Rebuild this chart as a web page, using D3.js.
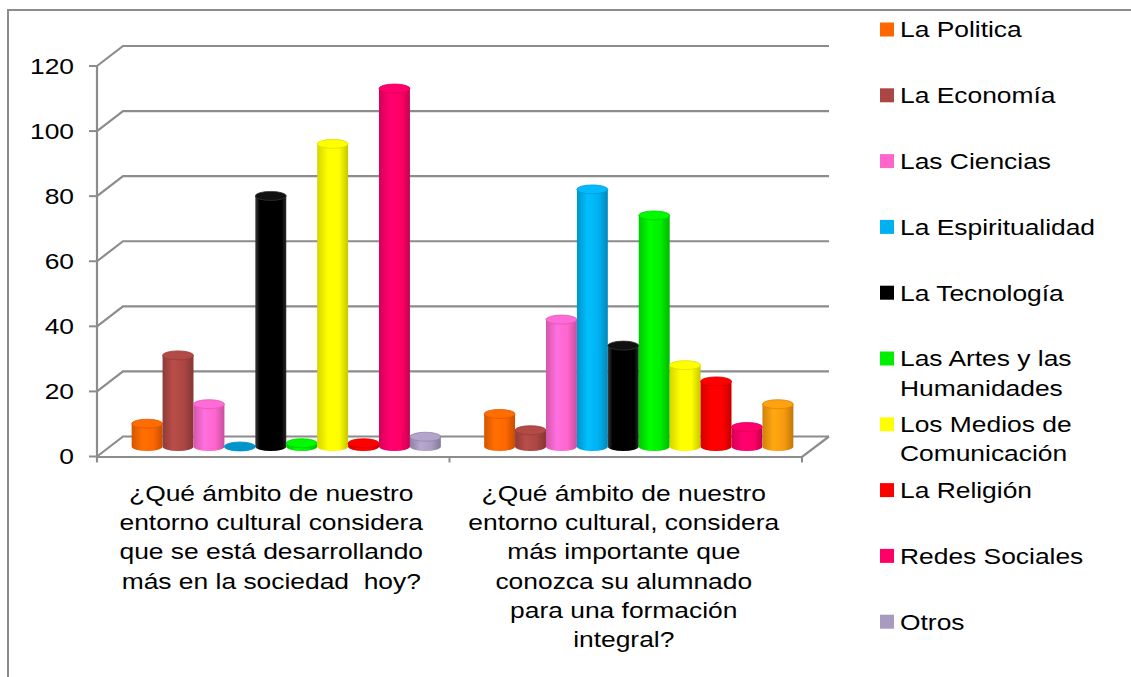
<!DOCTYPE html>
<html>
<head>
<meta charset="utf-8">
<script src="https://cdnjs.cloudflare.com/ajax/libs/d3/7.8.5/d3.min.js"></script>
<style>
  body { margin: 0; background: white; }
  text { font-family: "Liberation Sans", Arial, sans-serif; fill: #000; }
</style>
</head>
<body>
<svg id="chart"></svg>
<script>
var WIDTH = 1131,
    HEIGHT = 677,
    FRONT = {left: 97, right: 802, top: 66, bottom: 456.5},
    DEPTH = {dx: 26, dy: -20},
    GRID_COLOR = "#8c8c8c",
    FONT_SIZE = 22,
    STRETCH = 1.2;

// data
var questions = ["q1", "q2"];
var questionLines = [
    ["¿Qué ámbito de nuestro", "entorno cultural considera", "que se está desarrollando", "más en la sociedad  hoy?"],
    ["¿Qué ámbito de nuestro", "entorno cultural, considera", "más importante que", "conozca su alumnado", "para una formación", "integral?"]
];
var seriesNames = ["La Politica", "La Economía", "Las Ciencias", "La Espiritualidad", "La Tecnología",
    "Las Artes y las Humanidades", "Los Medios de Comunicación", "La Religión", "Redes Sociales", "Otros"];
var legendLines = [["La Politica"], ["La Economía"], ["Las Ciencias"], ["La Espiritualidad"], ["La Tecnología"],
    ["Las Artes y las", "Humanidades"], ["Los Medios de", "Comunicación"], ["La Religión"], ["Redes Sociales"], ["Otros"]];
var valuesQ1 = [7, 28, 13, 0, 77, 1, 93, 1, 110, 3];
var valuesQ2 = [10, 5, 39, 79, 31, 71, 25, 20, 6, 13];
var seriesColors = ["#FF6600", "#AA4643", "#FF66CC", "#00B0F0", "#000000",
    "#00EE00", "#FFFF00", "#FF0000", "#FF0066", "#A99BC0"];
var barColorsQ1 = seriesColors.slice();
var barColorsQ2 = ["#FF6600", "#AA4643", "#FF66CC", "#00B0F0", "#000000",
    "#00EE00", "#FFFF00", "#FF0000", "#FF0066", "#F79A0E"];
var yTicks = [0, 20, 40, 60, 80, 100, 120];

var allValues = [valuesQ1, valuesQ2];
var allColors = [barColorsQ1, barColorsQ2];

var svg = d3.select("#chart")
    .attr("width", WIDTH)
    .attr("height", HEIGHT)
    .style("background", "white");

var defs = svg.append("defs");

var x0 = d3.scaleBand()
    .domain(questions)
    .range([FRONT.left, FRONT.right]);
var x1 = d3.scaleBand()
    .domain(seriesNames)
    .range([0, x0.bandwidth()])
    .paddingInner(0)
    .paddingOuter(0.7);
var y = d3.scaleLinear()
    .domain([0, 120])
    .range([FRONT.bottom, FRONT.top]);

// outer frame (runs past the page edges)
svg.append("rect")
    .attr("x", 8)
    .attr("y", 10)
    .attr("width", 1140)
    .attr("height", 700)
    .style("fill", "none")
    .style("stroke", GRID_COLOR)
    .style("stroke-width", 2);

// back wall gridlines
var grid = svg.append("g").attr("id", "grid");
grid.selectAll("path.gridline")
    .data(yTicks)
  .enter().append("path")
    .attr("class", "gridline")
    .attr("d", function(d) {
        var yy = y(d);
        return "M" + FRONT.left + "," + yy +
            "L" + (FRONT.left + DEPTH.dx) + "," + (yy + DEPTH.dy) +
            "L" + (FRONT.right + DEPTH.dx + 1) + "," + (yy + DEPTH.dy);
    })
    .style("fill", "none")
    .style("stroke", GRID_COLOR)
    .style("stroke-width", 2.2);

// floor front edge + right side
grid.append("path")
    .attr("d", "M" + FRONT.left + "," + (FRONT.bottom + 0.5) +
        "L" + FRONT.right + "," + (FRONT.bottom + 0.5) +
        "L" + (FRONT.right + DEPTH.dx + 1) + "," + (FRONT.bottom + DEPTH.dy))
    .style("fill", "none")
    .style("stroke", GRID_COLOR)
    .style("stroke-width", 2.2);

// y axis line and ticks
grid.append("line")
    .attr("x1", FRONT.left)
    .attr("x2", FRONT.left)
    .attr("y1", y(120))
    .attr("y2", FRONT.bottom + 5)
    .style("stroke", GRID_COLOR)
    .style("stroke-width", 2.2);
grid.selectAll("line.ytick")
    .data(yTicks)
  .enter().append("line")
    .attr("class", "ytick")
    .attr("x1", FRONT.left - 8)
    .attr("x2", FRONT.left)
    .attr("y1", function(d) { return y(d); })
    .attr("y2", function(d) { return y(d); })
    .style("stroke", GRID_COLOR)
    .style("stroke-width", 2);

// category ticks on the floor edge
var catTicks = [FRONT.left].concat(questions.map(function(q) { return x0(q) + x0.bandwidth(); }));
grid.selectAll("line.xtick")
    .data(catTicks)
  .enter().append("line")
    .attr("class", "xtick")
    .attr("x1", function(d) { return d; })
    .attr("x2", function(d) { return d; })
    .attr("y1", FRONT.bottom)
    .attr("y2", FRONT.bottom + 6)
    .style("stroke", GRID_COLOR)
    .style("stroke-width", 2);

// y labels
svg.selectAll("text.ylabel")
    .data(yTicks)
  .enter().append("text")
    .attr("class", "ylabel")
    .attr("transform", function(d) { return "translate(74," + y(d) + ") scale(" + STRETCH + ",1)"; })
    .attr("dy", "0.36em")
    .style("font-size", FONT_SIZE + "px")
    .style("text-anchor", "end")
    .text(function(d) { return d; });

// gradients for cylinders
function gradientId(color) { return "grad" + color.replace("#", ""); }
var usedColors = Array.from(new Set(barColorsQ1.concat(barColorsQ2)));
usedColors.forEach(function(c) {
    var base = d3.color(c);
    var isBlack = base.r + base.g + base.b < 30;
    var g = defs.append("linearGradient")
        .attr("id", gradientId(c))
        .attr("x1", "0%").attr("x2", "100%")
        .attr("y1", "0%").attr("y2", "0%");
    var stops = isBlack
        ? [[0, "#3a3a3a"], [0.15, "#000"], [0.85, "#000"], [1, "#2a2a2a"]]
        : [[0, base.darker(0.5)], [0.35, base.brighter(0.25)], [0.7, base], [1, base.darker(0.7)]];
    stops.forEach(function(s) {
        g.append("stop").attr("offset", s[0]).attr("stop-color", s[1].toString());
    });
});

// cylinders
var RY = 4.5;
var bars = svg.append("g").attr("id", "bars");
questions.forEach(function(q, qi) {
    seriesNames.forEach(function(s, si) {
        var v = allValues[qi][si],
            c = allColors[qi][si],
            w = x1.bandwidth(),
            rx = w / 2,
            cx = x0(q) + x1(s) + rx + DEPTH.dx / 2,
            yb = y(0) + DEPTH.dy / 2,
            yt = y(v) + DEPTH.dy / 2;
        var cyl = bars.append("g").attr("class", "cylinder");
        cyl.append("path")
            .attr("d", "M" + (cx - rx) + "," + yt +
                "L" + (cx - rx) + "," + yb +
                "A" + rx + "," + RY + " 0 0 0 " + (cx + rx) + "," + yb +
                "L" + (cx + rx) + "," + yt + "Z")
            .style("fill", "url(#" + gradientId(c) + ")");
        var top = d3.color(c);
        var isBlack = top.r + top.g + top.b < 30;
        cyl.append("ellipse")
            .attr("cx", cx)
            .attr("cy", yt)
            .attr("rx", rx)
            .attr("ry", RY)
            .style("fill", v === 0 ? top.darker(0.5) : (isBlack ? "#111" : top.brighter(0.15)))
            .style("stroke", isBlack ? "#333" : top.darker(0.4))
            .style("stroke-width", 0.8);
    });
});

// category labels
var LINE_STEP = 29.2;
questions.forEach(function(q, qi) {
    var cx = x0(q) + x0.bandwidth() / 2 - 2;
    svg.selectAll("text.cat" + qi)
        .data(questionLines[qi])
      .enter().append("text")
        .attr("class", "cat" + qi)
        .attr("transform", function(d, i) { return "translate(" + cx + "," + (493 + i * LINE_STEP) + ") scale(" + STRETCH + ",1)"; })
        .attr("dy", "0.36em")
        .style("font-size", FONT_SIZE + "px")
        .style("text-anchor", "middle")
        .style("white-space", "pre")
        .text(function(d) { return d; });
});

// legend
var LEGEND_X = 880, LEGEND_Y = 29.5, LEGEND_STEP = 65.8;
var legend = svg.append("g").attr("id", "legend");
seriesNames.forEach(function(s, i) {
    var ly = LEGEND_Y + i * LEGEND_STEP;
    legend.append("rect")
        .attr("x", LEGEND_X)
        .attr("y", ly - 7)
        .attr("width", 14)
        .attr("height", 14)
        .style("fill", seriesColors[i]);
    legendLines[i].forEach(function(line, li) {
        legend.append("text")
            .attr("transform", "translate(" + (LEGEND_X + 20) + "," + (ly + li * LINE_STEP) + ") scale(" + STRETCH + ",1)")
            .attr("dy", "0.36em")
            .style("font-size", FONT_SIZE + "px")
            .text(line);
    });
});
</script>
</body>
</html>
